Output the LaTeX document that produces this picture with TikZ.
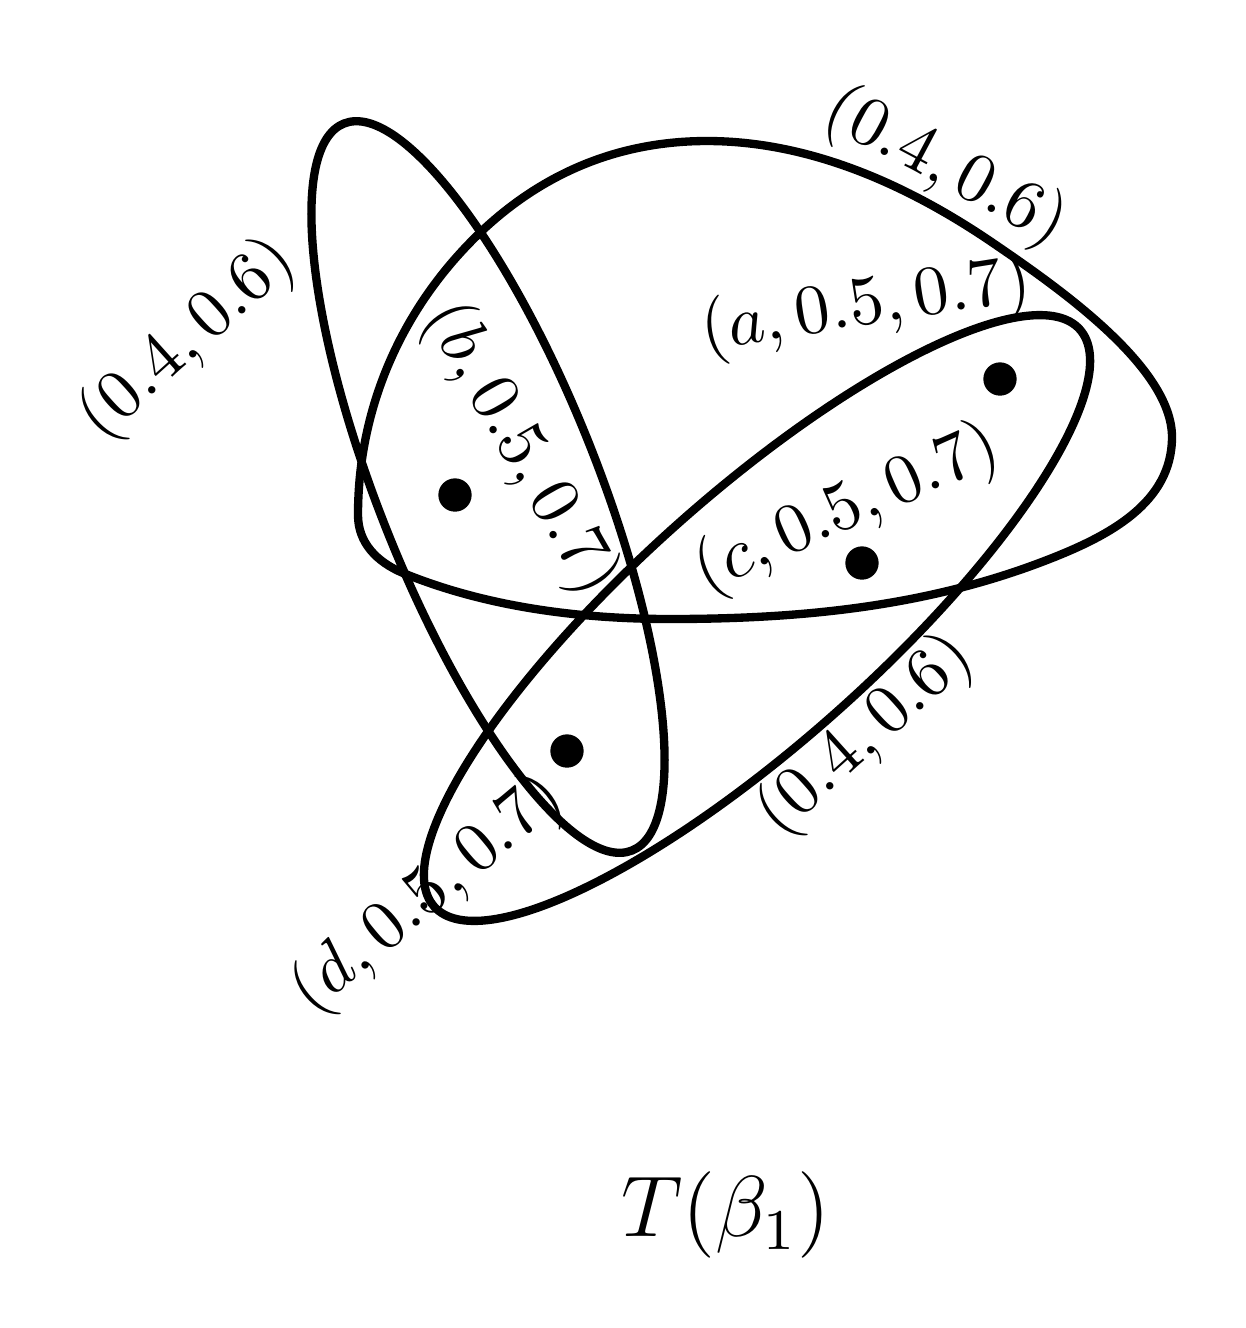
\documentclass[tikz,border=0pt]{standalone}
\begin{document}
\begin{tikzpicture}[x=0.15pt,y=-0.15pt,
  curve/.style={line width=1.25pt},
  dot/.style={circle,fill=black,inner sep=0pt,minimum size=5pt},
  lab/.style={inner sep=0pt,scale=1.05}]
\useasboundingbox (0,0) rectangle (1246,1328);
% tall tilted ellipse
\draw[curve, rotate around={-68.4:(488,487)}] (488,487) ellipse [x radius=58.65pt, y radius=16.5pt];
% diagonal ellipse
\draw[curve, rotate around={41.8:(757,618)}] (757,618) ellipse [x radius=64.95pt, y radius=18.45pt];
% large egg-shaped curve
\draw[curve] (358,515) .. controls (358,405) and (404,303) .. (485,228)
  .. controls (546,172) and (620,141) .. (707,141)
  .. controls (810,141) and (908,185) .. (993,243)
  .. controls (1059,288) and (1172,367) .. (1172,437)
  .. controls (1172,503) and (1109,536) .. (1047,560)
  .. controls (926,607) and (800,619) .. (670,619)
  .. controls (580,619) and (486,607) .. (403,573)
  .. controls (377,562) and (358,543) .. cycle;
% points
\node[dot] (pb) at (455,495) {};
\node[dot] (pa) at (1000,379) {};
\node[dot] (pc) at (862,563) {};
\node[dot] (pd) at (567,751) {};
% labels
\node[lab, rotate=42] (l1) at (188,340) {$(0.4,0.6)$};
\node[lab, rotate=-28] (l2) at (945,168) {$(0.4,0.6)$};
\node[lab, rotate=9] (la) at (866,307) {$(a,0.5,0.7)$};
\node[lab, rotate=-60] (lb) at (520,449) {$(b,0.5,0.7)$};
\node[lab, rotate=24] (lc) at (847,510) {$(c,0.5,0.7)$};
\node[lab, rotate=42] (l3) at (866,736) {$(0.4,0.6)$};
\node[lab, rotate=40] (ld) at (428,895) {$(d,0.5,0.7)$};
\node[inner sep=0pt, scale=1.08] (title) at (726,1215) {\large $T(\beta_1)$};
\end{tikzpicture}
\end{document}
